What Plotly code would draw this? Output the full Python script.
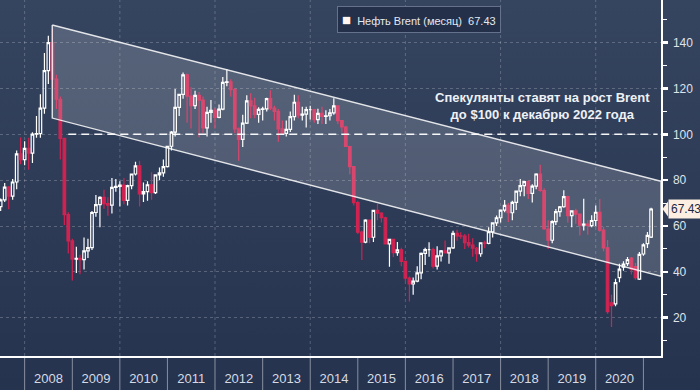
import base64
import pandas as pd
import plotly.graph_objects as go

# ---------------- data (monthly Brent candles, Jun 2007 .. Feb 2021) ----------------
opens = [
    68.5, 71.4, 77.0, 73.0, 79.2, 91.5, 89.0,
    93.9, 91.8, 100.1, 100.3, 111.4, 127.8, 140.0, 124.1, 115.3, 98.2, 65.0, 53.5,
    45.6, 45.9, 45.3, 49.2, 50.6, 65.9, 69.3, 72.5, 69.8, 69.1, 76.9, 77.3,
    77.9, 71.2, 77.6, 82.7, 86.2, 74.0, 75.0, 78.0, 74.6, 82.3, 83.2, 85.9,
    94.8, 101.0, 111.8, 117.4, 125.9, 116.7, 112.5, 117.0, 114.9, 102.8, 109.6, 110.5,
    107.4, 111.0, 122.7, 122.9, 119.5, 102.4, 97.8, 104.9, 114.6, 112.4, 108.7, 110.9,
    111.1, 115.6, 111.4, 110.0, 102.4, 100.4, 102.2, 107.7, 114.0, 108.4, 108.8, 110.8,
    110.8, 106.4, 109.1, 107.8, 108.1, 109.4, 112.4, 106.0, 103.2, 94.7, 85.9, 70.2,
    57.3, 53.0, 62.6, 55.1, 66.8, 65.6, 63.6, 52.2, 54.2, 48.4, 49.6, 44.6,
    37.3, 34.7, 36.0, 39.6, 48.1, 49.7, 49.7, 42.5, 47.0, 49.2, 48.3, 50.5,
    56.8, 55.7, 55.6, 52.8, 51.7, 50.3, 47.9, 52.7, 52.4, 57.5, 61.4, 63.6,
    66.9, 69.0, 65.8, 70.3, 75.2, 77.6, 79.4, 74.2, 77.4, 82.7, 75.5, 58.7,
    53.8, 61.9, 66.3, 68.4, 72.8, 64.5, 66.6, 65.2, 60.4, 60.8, 60.2, 62.4,
    66.0, 58.2, 50.5, 26.5, 26.0, 37.5, 42.1, 43.6, 46.0, 42.3, 36.8, 47.8,
    52.3, 55.2,
]
highs = [
    72.0, 78.8, 77.5, 80.5, 93.0, 98.6, 97.0,
    98.5, 100.9, 108.0, 117.5, 135.5, 143.0, 146.0, 126.0, 116.5, 98.5, 66.0, 54.5,
    51.0, 47.5, 55.0, 54.5, 66.5, 73.5, 73.0, 75.8, 72.5, 81.0, 80.5, 79.5,
    81.0, 78.0, 82.9, 88.0, 88.5, 79.0, 79.5, 83.5, 82.5, 85.5, 89.0, 94.9,
    101.5, 119.8, 117.5, 127.0, 126.5, 120.5, 119.0, 118.5, 116.5, 112.0, 115.0, 111.5,
    113.0, 125.0, 128.4, 124.0, 120.0, 103.0, 108.5, 117.0, 117.9, 116.0, 111.8, 112.0,
    116.0, 119.2, 112.5, 111.0, 106.0, 106.0, 110.0, 117.3, 117.0, 112.0, 112.0, 112.5,
    110.9, 111.2, 112.0, 110.5, 111.0, 115.7, 112.5, 106.3, 103.7, 95.0, 86.0, 71.0,
    58.0, 63.0, 62.7, 66.9, 69.6, 66.0, 64.0, 54.5, 54.5, 53.0, 50.5, 44.8,
    38.0, 37.5, 42.5, 48.5, 50.5, 52.9, 50.5, 51.2, 49.5, 53.7, 50.5, 57.9,
    58.4, 57.3, 56.5, 56.6, 54.7, 50.8, 52.9, 53.6, 59.5, 61.5, 64.6, 67.0,
    71.3, 70.0, 71.0, 75.5, 80.5, 79.5, 79.9, 78.2, 83.0, 86.7, 76.5, 62.5,
    62.5, 67.4, 68.7, 75.6, 73.2, 66.8, 67.5, 65.5, 71.9, 62.5, 64.7, 68.9,
    71.8, 59.7, 53.9, 30.0, 37.0, 43.5, 44.6, 46.5, 46.5, 43.9, 48.7, 52.5,
    57.4, 68.0,
]
lows = [
    66.5, 70.5, 67.3, 71.5, 76.0, 87.0, 86.5,
    84.5, 87.5, 98.5, 98.5, 109.0, 122.0, 120.0, 111.0, 89.0, 60.5, 48.0, 36.2,
    39.5, 39.0, 41.0, 46.0, 49.5, 64.0, 59.5, 67.5, 64.5, 65.5, 75.0, 68.5,
    69.5, 69.0, 76.0, 82.0, 68.5, 70.5, 71.0, 71.5, 74.0, 80.0, 81.5, 85.5,
    93.0, 99.0, 108.0, 115.5, 105.0, 102.5, 111.0, 98.7, 100.5, 99.0, 105.0, 102.5,
    107.0, 110.5, 121.0, 116.5, 100.5, 88.5, 94.5, 104.5, 107.0, 107.0, 105.0, 106.0,
    110.0, 110.5, 106.0, 96.8, 100.0, 99.0, 101.0, 106.0, 107.0, 106.0, 103.0, 106.5,
    105.0, 104.5, 104.5, 104.5, 106.0, 108.5, 104.5, 100.8, 94.5, 82.6, 68.9, 56.5,
    45.2, 52.5, 52.5, 53.0, 62.5, 61.5, 52.0, 42.2, 46.5, 47.0, 42.5, 36.0,
    27.1, 30.0, 35.5, 36.8, 43.0, 46.6, 41.5, 41.0, 44.5, 48.3, 43.5, 50.0,
    53.6, 54.5, 50.0, 50.6, 46.6, 44.4, 46.6, 50.3, 52.0, 55.0, 60.0, 61.5,
    66.0, 61.8, 62.5, 67.0, 73.0, 73.0, 71.8, 70.3, 76.0, 75.0, 58.4, 50.0,
    52.5, 60.5, 64.0, 68.0, 61.5, 59.5, 61.0, 55.9, 58.0, 56.2, 59.5, 60.0,
    57.5, 49.0, 21.7, 16.0, 25.0, 35.5, 40.5, 42.6, 38.9, 36.6, 36.4, 47.0,
    50.4, 54.8,
]
closes = [
    71.4, 77.0, 73.0, 79.2, 91.5, 89.0, 93.9,
    91.8, 100.1, 100.3, 111.4, 127.8, 140.0, 124.1, 115.3, 98.2, 65.0, 53.5, 45.6,
    45.9, 45.3, 49.2, 50.6, 65.9, 69.3, 72.5, 69.8, 69.1, 76.9, 77.3, 77.9,
    71.2, 77.6, 82.7, 86.2, 74.0, 75.0, 78.0, 74.6, 82.3, 83.2, 85.9, 94.8,
    101.0, 111.8, 117.4, 125.9, 116.7, 112.5, 117.0, 114.9, 102.8, 109.6, 110.5, 107.4,
    111.0, 122.7, 122.9, 119.5, 102.4, 97.8, 104.9, 114.6, 112.4, 108.7, 110.9, 111.1,
    115.6, 111.4, 110.0, 102.4, 100.4, 102.2, 107.7, 114.0, 108.4, 108.8, 110.8, 110.8,
    106.4, 109.1, 107.8, 108.1, 109.4, 112.4, 106.0, 103.2, 94.7, 85.9, 70.2, 57.3,
    53.0, 62.6, 55.1, 66.8, 65.6, 63.6, 52.2, 54.2, 48.4, 49.6, 44.6, 37.3,
    34.7, 36.0, 39.6, 48.1, 49.7, 49.7, 42.5, 47.0, 49.2, 48.3, 50.5, 56.8,
    55.7, 55.6, 52.8, 51.7, 50.3, 47.9, 52.7, 52.4, 57.5, 61.4, 63.6, 66.9,
    69.0, 65.8, 70.3, 75.2, 77.6, 79.4, 74.2, 77.4, 82.7, 75.5, 58.7, 53.8,
    61.9, 66.3, 68.4, 72.8, 64.5, 66.6, 65.2, 60.4, 60.8, 60.2, 62.4, 66.0,
    58.2, 50.5, 22.7, 25.3, 35.3, 41.2, 43.4, 45.3, 41.0, 37.5, 47.6, 51.8,
    55.9, 67.43,
]
months = pd.date_range("2007-06-01", periods=len(closes), freq="MS")

# trend channel (drawn overlay) and target level
channel_x = ["2008-07-31", "2021-05-16"]
channel_upper = [147.7, 79.5]
channel_lower = [107.1, 38.1]
target_level = 100
target_x = ["2008-12-01", "2021-04-20"]

y_ticks = [20, 40, 60, 80, 100, 120, 140]
years = list(range(2008, 2021))

legend_label = "Нефть Brent (месяц)"
headline = ["Спекулянты ставят на рост Brent", "до $100 к декабрю 2022 года"]

# ---------------- styling ----------------
FONT = "Liberation Sans"
RED = "#cf2352"
W, H = 700, 390
L, R, T, B = 0, 39, 0, 34
PW, PH = W - L - R, H - T - B

svg = (
    f'<svg xmlns="http://www.w3.org/2000/svg" width="{W}" height="{H}" preserveAspectRatio="none">'
    '<defs><linearGradient id="g" x1="0" y1="0" x2="0" y2="1">'
    '<stop offset="0" stop-color="#35445f"/><stop offset="1" stop-color="#26334f"/>'
    '</linearGradient></defs>'
    f'<rect width="{W}" height="{H}" fill="url(#g)"/></svg>'
)
bg_src = "data:image/svg+xml;base64," + base64.b64encode(svg.encode()).decode()

fig = go.Figure()

# channel
fig.add_trace(go.Scatter(
    x=[channel_x[0], channel_x[1], channel_x[1], channel_x[0], channel_x[0]],
    y=[channel_upper[0], channel_upper[1], channel_lower[1], channel_lower[0], channel_upper[0]],
    mode="lines", fill="toself", fillcolor="rgba(255,255,255,0.17)",
    line=dict(color="rgba(255,255,255,0.85)", width=1.4),
    hoverinfo="skip", showlegend=False,
))

fig.add_trace(go.Candlestick(
    x=months, open=opens, high=highs, low=lows, close=closes,
    xperiod="M1", xperiodalignment="end",
    increasing=dict(line=dict(color="#ffffff", width=1.2), fillcolor="rgba(0,0,0,0)"),
    decreasing=dict(line=dict(color=RED, width=1.2), fillcolor=RED),
    whiskerwidth=0, showlegend=False, hoverinfo="skip",
))

shapes = []
# vertical dashed grid every two years
for yr in range(2008, 2021, 2):
    shapes.append(dict(type="line", xref="x", yref="paper", x0=f"{yr}-01-01", x1=f"{yr}-01-01",
                       y0=0, y1=1, layer="below",
                       line=dict(color="rgba(255,255,255,0.22)", width=1, dash="3px,3px")))
# year separators below axis
for yr in range(2008, 2022):
    shapes.append(dict(type="line", xref="x", yref="paper", x0=f"{yr}-01-01", x1=f"{yr}-01-01",
                       y0=-B / PH, y1=0, line=dict(color="rgba(255,255,255,0.45)", width=1)))
# target line
shapes.append(dict(type="line", xref="x", yref="y", x0=target_x[0], x1=target_x[1],
                   y0=target_level, y1=target_level,
                   line=dict(color="rgba(255,255,255,0.95)", width=1.5, dash="8px,5px")))
# pointer of last-price label
last = closes[-1]
shapes.append(dict(type="path", xref="paper", yref="y",
                   path=f"M {1 + 1.5 / PW} {last} L {1 + 7 / PW} {last + 3.3} L {1 + 7 / PW} {last - 3.3} Z",
                   fillcolor="#fcefe1", line=dict(width=0)))

annotations = [
    dict(xref="paper", yref="paper", x=337 / PW, y=1 - 6 / PH, xanchor="left", yanchor="top",
         text=f"<span style='color:#fff6f2;font-size:15px'>■</span>  {legend_label}  {last:.2f}",
         showarrow=False, font=dict(family=FONT, size=11, color="#e4e8ef"),
         bgcolor="#243049", bordercolor="#66728b", borderwidth=1, borderpad=4, align="left"),
    dict(xref="paper", yref="paper", x=542 / PW, y=1 - 106 / PH, xanchor="center", yanchor="middle",
         text="<br>".join(f"<b>{s}</b>" for s in headline), showarrow=False,
         font=dict(family=FONT, size=13, color="#eef1f6"), align="center"),
    dict(xref="paper", yref="y", x=1, xshift=7, y=last, xanchor="left", yanchor="middle",
         text=f"{last:.2f}", showarrow=False,
         font=dict(family=FONT, size=12, color="#1c2742"),
         bgcolor="#fcefe1", borderpad=2),
]

fig.update_layout(
    width=W, height=H, margin=dict(l=L, r=R, t=T, b=B),
    paper_bgcolor="#2c3956", plot_bgcolor="rgba(0,0,0,0)",
    font=dict(family=FONT, color="#d8dde6"),
    showlegend=False, hovermode=False,
    boxgap=0.0,
    shapes=shapes, annotations=annotations,
    images=[dict(source=bg_src, xref="paper", yref="paper", x=-L / PW, y=1 + T / PH,
                 sizex=W / PW, sizey=H / PH, xanchor="left", yanchor="top",
                 sizing="stretch", layer="below")],
    xaxis=dict(
        type="date", range=["2007-06-26", "2021-05-16"],
        rangeslider=dict(visible=False),
        tickmode="array", tickvals=[f"{y}-07-02" for y in years], ticktext=[str(y) for y in years],
        ticks="", showgrid=False, zeroline=False,
        showline=True, linecolor="#ffffff", linewidth=1.5,
        tickfont=dict(family=FONT, size=13, color="#d5dae3"),
        ticklabelstandoff=10,
    ),
    yaxis=dict(
        side="right", range=[3.3, 158.6],
        tickmode="array", tickvals=y_ticks,
        ticks="outside", ticklen=5, tickwidth=2.5, tickcolor="#ffffff",
        minor=dict(dtick=10, tick0=0, ticks="outside", ticklen=4, tickwidth=1, tickcolor="#ffffff",
                   showgrid=False),
        showgrid=True, gridcolor="rgba(255,255,255,0.22)", griddash="3px,3px", gridwidth=1,
        zeroline=False, showline=True, linecolor="#ffffff", linewidth=1.5,
        tickfont=dict(family=FONT, size=12, color="#dfe3ea"),
        ticklabelstandoff=3,
    ),
)

fig.write_html(
    "out.html",
    config={"displayModeBar": False, "staticPlot": True},
    post_script="document.body.style.margin='0';document.body.style.overflow='hidden';",
)
